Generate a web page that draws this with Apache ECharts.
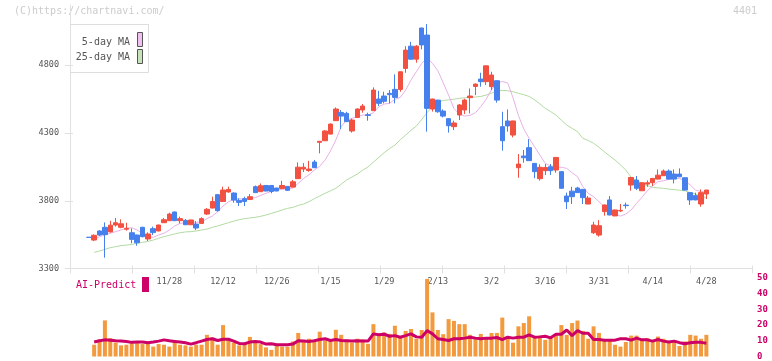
<!DOCTYPE html>
<html><head><meta charset="utf-8">
<script src="https://cdn.jsdelivr.net/npm/echarts@6/dist/echarts.min.js"></script>
<style>html,body{margin:0;padding:0;background:#fff}#c{width:772px;height:361px}</style>
</head><body><div id="c"></div>
<script>
// ---- data (one entry per trading day) ----
const openP = [3530,3510,3577,3604,3570,3621,3604,3590,3564,3547,
3604,3518,3594,3577,3638,3653,3717,3653,3655,3623,
3628,3633,3702,3746,3845,3795,3865,3857,3803,3815,
3810,3904,3867,3913,3913,3894,3891,3906,3901,3963,
4034,4024,4086,4231,4243,4292,4391,4452,4445,4315,
4415,4470,4435,4465,4551,4573,4593,4622,4622,4777,
4941,4845,5075,5023,4477,4543,4462,4406,4347,4433,
4470,4561,4644,4698,4679,4642,4686,4347,4389,4285,
4044,4130,4192,4076,3963,4022,4051,4027,4015,3835,
3871,3894,3884,3776,3564,3547,3720,3806,3688,3725,
3768,3916,3953,3874,3923,3933,3960,3985,4019,3997,
3997,3970,3860,3838,3776,3850];
const closeP = [3530,3545,3547,3550,3620,3638,3630,3597,3515,3490,
3535,3555,3565,3621,3660,3702,3653,3668,3623,3658,
3599,3668,3737,3795,3727,3879,3884,3805,3788,3795,
3830,3860,3911,3872,3869,3872,3913,3877,3940,4048,
4048,4034,4044,4239,4315,4366,4477,4425,4384,4396,
4477,4499,4430,4617,4519,4534,4583,4563,4752,4912,
4845,4941,4950,4482,4551,4457,4425,4354,4374,4507,
4543,4573,4661,4679,4796,4728,4543,4243,4352,4389,
4071,4118,4096,4015,4047,4046,4022,4120,3892,3793,
3830,3860,3823,3820,3621,3616,3769,3695,3732,3729,
3764,3972,3892,3933,3933,3965,3989,4019,3960,3960,
3977,3879,3806,3806,3860,3879];
const lowP = [3530,3503,3540,3380,3566,3609,3597,3579,3486,3468,
3530,3503,3547,3575,3636,3651,3651,3633,3621,3621,
3584,3631,3695,3744,3720,3793,3860,3786,3761,3761,
3805,3858,3865,3870,3855,3870,3889,3872,3899,3961,
4012,4014,4042,4150,4241,4290,4389,4329,4382,4303,
4413,4450,4391,4463,4499,4519,4519,4519,4605,4745,
4843,4819,4918,4310,4458,4450,4415,4303,4322,4396,
4440,4445,4580,4642,4654,4617,4524,4170,4310,4268,
3970,4081,4094,3966,3949,3990,3990,4007,3890,3739,
3776,3858,3776,3774,3555,3535,3690,3693,3686,3717,
3742,3874,3879,3872,3903,3909,3958,3983,3958,3928,
3975,3877,3769,3804,3756,3813];
const highP = [3530,3552,3582,3640,3652,3673,3663,3638,3596,3550,
3608,3567,3609,3623,3673,3712,3720,3683,3665,3660,
3650,3678,3746,3830,3850,3904,3904,3862,3818,3830,
3850,3913,3928,3915,3915,3896,3947,3908,3953,4083,
4078,4095,4101,4241,4322,4370,4489,4470,4457,4406,
4482,4514,4450,4637,4612,4605,4617,4733,4754,4941,
4973,4949,5077,5104,4553,4545,4475,4410,4391,4514,
4553,4629,4666,4745,4798,4752,4688,4457,4474,4391,
4145,4175,4255,4078,4069,4071,4071,4122,4017,3860,
3903,3903,3886,3835,3645,3657,3771,3835,3734,3776,
3786,3974,3983,3935,3950,3967,4031,4031,4031,4031,
4039,3972,3862,3860,3884,3881];
const ma5 = [null,3515,3535,3547,3560,3572,3584,3596,3601,3584,
3560,3535,3530,3547,3560,3584,3614,3633,3638,3643,
3641,3643,3668,3687,3719,3761,3793,3810,3815,3813,
3818,3823,3840,3855,3869,3879,3884,3887,3894,3928,
3965,3992,4027,4054,4101,4167,4248,4347,4396,4408,
4420,4433,4433,4450,4494,4514,4519,4548,4563,4617,
4691,4753,4814,4855,4814,4760,4670,4580,4480,4440,
4425,4430,4450,4495,4550,4620,4670,4680,4670,4560,
4430,4330,4260,4199,4137,4076,4057,4052,4047,4039,
4007,3978,3904,3855,3830,3793,3757,3720,3702,3687,
3702,3732,3781,3825,3874,3909,3941,3948,3958,3965,
3965,3948,3916,3879,3867,3867];
const ma25 = [null,3419,3429,3441,3454,3461,3469,3473,3478,3486,
3493,3500,3510,3523,3535,3545,3555,3564,3570,3572,
3577,3584,3591,3604,3614,3626,3638,3650,3660,3668,
3673,3678,3685,3695,3707,3719,3732,3744,3751,3766,
3776,3793,3815,3835,3855,3873,3892,3922,3953,3975,
3997,4025,4050,4085,4120,4155,4185,4211,4250,4285,
4320,4352,4400,4450,4500,4528,4540,4545,4550,4556,
4560,4563,4566,4570,4580,4595,4610,4615,4612,4605,
4593,4583,4570,4545,4515,4482,4458,4433,4395,4359,
4335,4310,4261,4245,4224,4195,4162,4130,4101,4065,
4027,3973,3950,3928,3912,3899,3895,3892,3886,3882,
3878,3874,3860,3850,3830,3825];
const volume = [null,7.5,10.8,23,11.7,8.8,7.1,7.5,8.8,8.8,
7.9,9.6,6.3,7.9,7.5,6.3,9.2,7.5,7.1,6.3,
7.5,7.5,13.8,12.1,7.5,20,10.8,8.8,7.1,7.9,
12.5,9.2,7.9,5.8,4.2,7.1,6.3,6.3,9.6,15,
9.6,11.3,9.9,15.8,10.2,9.6,17,13.8,10.8,8.8,
11.3,10.8,8.1,20.6,13.3,15.4,14.4,19.6,12.3,16.3,
17.5,11.3,16.9,49.4,28.1,16.9,14.2,23.8,22.7,20.6,
20.6,13.8,11.3,14.4,11.3,15,15,24.8,12.3,8.8,
19.2,21.3,25.6,12.3,13.3,10.6,11.7,13.8,20,13.8,
21.3,22.9,16.3,11.3,19.2,15,10.2,10.2,7.5,6.3,
9.2,13.3,13.3,10.8,11.7,9.6,12.7,11.3,9.6,9.6,
6.7,9.6,13.8,13.3,11.3,13.8];
const aiPredict = [null,9.2,10,10.6,10.4,10,9.8,9.6,9,9.2,
9.2,8.8,9.2,9.8,10.6,10,9.6,9.2,8.8,7.9,
8.8,9.8,10.8,11.3,10.2,11,11,9.8,8.3,8.1,
9.2,9.6,9.2,7.9,8.1,7.5,7.5,7.5,7.9,10,
9.8,9.6,10,10.8,11.3,10.2,10.8,10.2,10,9.8,
10,9.8,9.8,14.4,13.8,14.2,12.9,13.3,12.3,13.3,
14.4,12.5,12.3,16.5,14.4,11.3,10.8,10.2,11.3,11.3,
11.7,12.3,11.7,11.3,11.7,11.7,12.1,10.8,12.3,11.7,
12.3,12.3,13.8,12.3,12.5,12.9,11.9,14.2,14.2,16.9,
13.3,16.5,14.8,14.8,10.8,10.8,10.4,10.4,10.4,11.3,
11.3,10.4,11.7,10.6,10.6,9.8,10.8,9.8,9.2,9.8,
8.8,8.1,8.8,9,9,8.5];
// date labels and the data index they belong to
const tickDates = ['11/28','12/12','12/26','1/15','1/29','2/13','3/2','3/16','3/31','4/14','4/28'];
const tickIndex = [15,25,35,45,55,65,75,85,95,105,115];
const priceTicks = [3300,3800,4300,4800];
const volTicks = [0,10,20,30,40,50];

// ---- layout ----
const LEAD = 3, TRAIL = 8;
const pad = arr => Array(LEAD).fill(null).concat(arr, Array(TRAIL).fill(null));
const N = openP.length + LEAD + TRAIL;
const cats = Array.from({length: N}, (_, i) => String(i));
const labelMap = {};
tickIndex.forEach((d, j) => { labelMap[d + LEAD] = tickDates[j]; });
const candles = pad(openP.map((o, i) => [o, closeP[i], lowP[i], highP[i]])).map(v => v === null ? '-' : v);

const FONT = 'DejaVu Sans Mono';
const UP = '#f25041', DOWN = '#4680ec';
const chart = echarts.init(document.getElementById('c'), null, {renderer: 'canvas'});
const gridL = 70, gridR = 20;
chart.setOption({
  animation: false,
  grid: [
    {left: gridL, right: gridR, top: 5, bottom: 92.5},
    {left: gridL, right: gridR, top: 278, bottom: 3}
  ],
  xAxis: [
    {type: 'category', gridIndex: 0, data: cats, boundaryGap: true,
     axisLine: {show: true, lineStyle: {color: '#e0e0e0', width: 1}},
     axisTick: {show: false},
     axisLabel: {interval: (i) => labelMap[i] !== undefined, formatter: (v, i) => labelMap[i] || '',
       color: '#555', fontFamily: FONT, fontSize: 8.5, margin: 9},
     splitLine: {show: false}},
    {type: 'value', gridIndex: 0, min: 0, max: 11, interval: 1, position: 'bottom', offset: -3,
     axisLine: {show: false}, axisLabel: {show: false}, splitLine: {show: false},
     axisTick: {show: true, length: 8, lineStyle: {color: '#e0e0e0'}}},
    {type: 'category', gridIndex: 1, data: cats, boundaryGap: true, show: false}
  ],
  yAxis: [
    {type: 'value', gridIndex: 0, min: 3300, max: 5245, position: 'left', offset: -3,
     axisLine: {show: false},
     axisTick: {show: true, length: 8, customValues: priceTicks, lineStyle: {color: '#e0e0e0'}},
     axisLabel: {customValues: priceTicks, formatter: v => String(v), color: '#555', fontFamily: FONT, fontSize: 8.5, margin: 14},
     splitLine: {show: false}},
    {type: 'value', gridIndex: 0, min: 3300, max: 5245, position: 'left',
     axisLine: {show: true, lineStyle: {color: '#e0e0e0'}}, axisTick: {show: false},
     axisLabel: {show: false}, splitLine: {show: false}},
    {type: 'value', gridIndex: 1, min: 0, max: 50, interval: 10, position: 'right',
     axisLine: {show: false}, axisTick: {show: false}, splitLine: {show: false},
     axisLabel: {customValues: volTicks, formatter: v => String(v), color: '#cc0066', fontFamily: FONT, fontSize: 9, fontWeight: 'bold', margin: 5}}
  ],
  series: [
    {type: 'line', xAxisIndex: 0, yAxisIndex: 0, data: pad(ma25), showSymbol: false, symbol: 'none',
     lineStyle: {color: '#b2daa2', width: 1}, z: 2},
    {type: 'line', xAxisIndex: 0, yAxisIndex: 0, data: pad(ma5), showSymbol: false, symbol: 'none',
     lineStyle: {color: '#e8b0e8', width: 1}, z: 2},
    {type: 'candlestick', xAxisIndex: 0, yAxisIndex: 0, data: candles, barWidth: 5, z: 3,
     itemStyle: {color: UP, color0: DOWN, borderColor: UP, borderColor0: DOWN, borderWidth: 1}},
    {type: 'bar', xAxisIndex: 2, yAxisIndex: 2, data: pad(volume), barWidth: 4,
     itemStyle: {color: '#f29a3d'}},
    {type: 'line', xAxisIndex: 2, yAxisIndex: 2, data: pad(aiPredict), showSymbol: false, symbol: 'none',
     lineStyle: {color: '#cc0066', width: 3}, z: 4}
  ],
  graphic: [
    {type: 'text', left: 14, top: 6, style: {text: '(C)https://chartnavi.com/', fill: '#cccccc', font: '10px ' + FONT}},
    {type: 'text', right: 15, top: 6, style: {text: '4401', fill: '#cccccc', font: '10px ' + FONT}},
    {type: 'group', left: 70, top: 24, z: 100, children: [
      {type: 'rect', shape: {x: 0.5, y: 0.5, width: 78, height: 48}, style: {fill: '#fff', stroke: '#dddddd', lineWidth: 1}},
      {type: 'text', x: 60, y: 18, style: {text: '5-day MA', fill: '#555', font: '10px ' + FONT, textAlign: 'right', textVerticalAlign: 'middle'}},
      {type: 'text', x: 60, y: 33, style: {text: '25-day MA', fill: '#555', font: '10px ' + FONT, textAlign: 'right', textVerticalAlign: 'middle'}},
      {type: 'rect', shape: {x: 67.5, y: 8.5, width: 5, height: 14}, style: {fill: '#f0c0f0', stroke: '#555', lineWidth: 1}},
      {type: 'rect', shape: {x: 67.5, y: 25.5, width: 5, height: 14}, style: {fill: '#c4e4b8', stroke: '#555', lineWidth: 1}}
    ]},
    {type: 'text', left: 76, top: 280, z: 100, style: {text: 'AI-Predict', fill: '#cc0066', font: '10px ' + FONT}},
    {type: 'rect', left: 142, top: 277, z: 100, shape: {width: 7, height: 15}, style: {fill: '#cc0066'}}
  ]
});
</script>
</body></html>
